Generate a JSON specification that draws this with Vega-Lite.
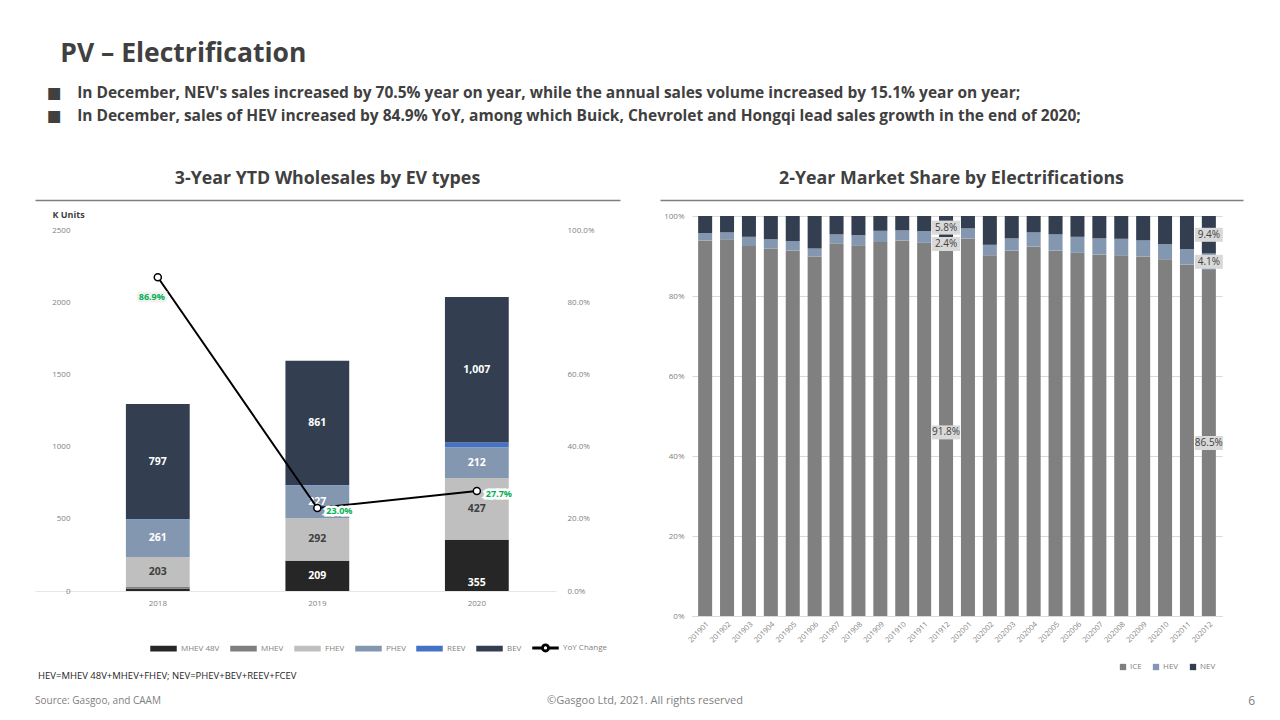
{
  "$schema": "https://vega.github.io/schema/vega-lite/v6.json",
  "background": "#ffffff",
  "padding": {"left": 35, "top": 41, "right": 20, "bottom": 6},
  "config": {
    "view": {"stroke": null},
    "font": "Open Sans",
    "axis": {"labelFont": "Open Sans", "titleFont": "Open Sans"},
    "legend": {"labelFont": "Open Sans"}
  },
  "title": {
    "text": "\u200b\u2002PV – Electrification",
    "subtitle": [
      "■\u2003In December, NEV's sales increased by 70.5% year on year, while the annual sales volume increased by 15.1% year on year;",
      "■\u2003In December, sales of HEV increased by 84.9% YoY, among which Buick, Chevrolet and Hongqi lead sales growth in the end of 2020;"
    ],
    "anchor": "start",
    "frame": "group",
    "dx": 12,
    "font": "Open Sans, DejaVu Sans",
    "fontSize": 26.5,
    "fontWeight": "bold",
    "color": "#404040",
    "subtitleFont": "Open Sans, DejaVu Sans",
    "subtitleFontSize": 15.5,
    "subtitleFontWeight": "bold",
    "subtitleColor": "#404040",
    "subtitlePadding": 18,
    "subtitleLineHeight": 23,
    "offset": 46
  },
  "spacing": 0,
  "vconcat": [
    {
      "spacing": 10,
      "vconcat": [
        {
          "spacing": 40,
          "hconcat": [
            {
              "width": 585,
              "height": 1,
              "title": {"text": "3-Year YTD Wholesales by EV types", "fontSize": 17.8, "fontWeight": "bold", "color": "#404040", "anchor": "middle", "offset": 11},
              "data": {"values": [{"v": 0}]},
              "mark": {"type": "point", "opacity": 0, "size": 1},
              "encoding": {
                "x": {"field": "v", "type": "quantitative", "axis": {"domain": true, "domainColor": "#7f7f7f", "domainWidth": 1.5, "labels": false, "ticks": false, "grid": false, "title": null}}
              }
            },
            {
              "width": 583,
              "height": 1,
              "title": {"text": "2-Year Market Share by Electrifications", "fontSize": 17.8, "fontWeight": "bold", "color": "#404040", "anchor": "middle", "offset": 11},
              "data": {"values": [{"v": 0}]},
              "mark": {"type": "point", "opacity": 0, "size": 1},
              "encoding": {
                "x": {"field": "v", "type": "quantitative", "axis": {"domain": true, "domainColor": "#7f7f7f", "domainWidth": 1.5, "labels": false, "ticks": false, "grid": false, "title": null}}
              }
            }
          ]
        },
        {
          "spacing": 23,
          "resolve": {"scale": {"color": "independent"}, "legend": {"color": "independent"}},
          "hconcat": [
            {
              "width": 521,
              "height": 375,
              "layer": [
                {
                  "data": {"values": [
                    {"year": "2018", "type": "MHEV 48V", "k": 15},
                    {"year": "2018", "type": "MHEV", "k": 17},
                    {"year": "2018", "type": "FHEV", "k": 203},
                    {"year": "2018", "type": "PHEV", "k": 261},
                    {"year": "2018", "type": "REEV", "k": 2},
                    {"year": "2018", "type": "BEV", "k": 797},
                    {"year": "2019", "type": "MHEV 48V", "k": 209},
                    {"year": "2019", "type": "MHEV", "k": 3},
                    {"year": "2019", "type": "FHEV", "k": 292},
                    {"year": "2019", "type": "PHEV", "k": 227},
                    {"year": "2019", "type": "REEV", "k": 3},
                    {"year": "2019", "type": "BEV", "k": 861},
                    {"year": "2020", "type": "MHEV 48V", "k": 355},
                    {"year": "2020", "type": "MHEV", "k": 1},
                    {"year": "2020", "type": "FHEV", "k": 427},
                    {"year": "2020", "type": "PHEV", "k": 212},
                    {"year": "2020", "type": "REEV", "k": 34},
                    {"year": "2020", "type": "BEV", "k": 1007}
                  ]},
                  "transform": [
                    {"calculate": "indexof(['MHEV 48V','MHEV','FHEV','PHEV','REEV','BEV'], datum.type)", "as": "ord"},
                    {"stack": "k", "groupby": ["year"], "sort": [{"field": "ord", "order": "ascending"}], "as": ["k0", "k1"]},
                    {"calculate": "(datum.k0 + datum.k1) / 2", "as": "kmid"}
                  ],
                  "layer": [
                    {
                      "mark": {"type": "bar"},
                      "encoding": {
                        "x": {"field": "year", "type": "nominal", "scale": {"paddingInner": 0.6, "paddingOuter": 0.433, "align": 0.658},
                          "axis": {"title": null, "labelAngle": 0, "labelFontSize": 8, "labelColor": "#7f7f7f", "ticks": false, "domainColor": "#e6e6e6", "labelPadding": 8}},
                        "y": {"field": "k0", "type": "quantitative", "scale": {"domain": [0, 2597], "nice": false},
                          "axis": {"title": "K Units", "titleAngle": 0, "titleX": 17, "titleY": -2, "titleAlign": "left", "titleBaseline": "middle", "titleFontSize": 9, "titleFontWeight": "bold", "titleColor": "#404040",
                            "values": [0, 500, 1000, 1500, 2000, 2500], "format": "d", "labelFontSize": 8, "labelColor": "#7f7f7f", "labelAlign": "right", "domain": false, "ticks": false, "grid": false, "labelPadding": -35, "minExtent": 0, "titlePadding": 0}},
                        "y2": {"field": "k1"},
                        "color": {"field": "type", "type": "nominal",
                          "scale": {"domain": ["MHEV 48V", "MHEV", "FHEV", "PHEV", "REEV", "BEV", "YoY Change"], "range": ["#262626", "#7f7f7f", "#bfbfbf", "#8497b0", "#4472c4", "#333f50", "#000000"]},
                          "legend": {"title": null, "orient": "none", "legendX": 115, "legendY": 418, "direction": "horizontal", "labelFontSize": 8, "labelColor": "#7f7f7f", "symbolSize": 625, "symbolType": "M-1,-0.17H1V0.17H-1Z", "columnPadding": 8, "labelOffset": 4,
                            "encode": {"symbols": {"update": {"shape": {"signal": "datum.value === 'YoY Change' ? 'M-1,-0.06H-0.3V0.06H-1Z M0.3,-0.06H1V0.06H0.3Z M0.3,0A0.3,0.3 0 1 0 -0.3,0A0.3,0.3 0 1 0 0.3,0Z M0.19,0A0.19,0.19 0 1 1 -0.19,0A0.19,0.19 0 1 1 0.19,0Z' : 'M-1,-0.17H1V0.17H-1Z'"}}}}}
                        }
                      }
                    },
                    {
                      "transform": [{"filter": "datum.k >= 100 && !(datum.year === '2020' && datum.type === 'MHEV 48V')"}],
                      "mark": {"type": "text", "fontSize": 10.5, "fontWeight": "bold", "baseline": "middle"},
                      "encoding": {
                        "x": {"field": "year", "type": "nominal"},
                        "y": {"field": "kmid", "type": "quantitative"},
                        "text": {"field": "k", "format": ","},
                        "color": {"condition": {"test": "datum.type === 'FHEV'", "value": "#404040"}, "value": "#ffffff"}
                      }
                    },
                    {
                      "transform": [{"filter": "datum.year === '2020' && datum.type === 'MHEV 48V'"}],
                      "mark": {"type": "text", "fontSize": 10.5, "fontWeight": "bold", "baseline": "middle", "dy": 18, "color": "#ffffff"},
                      "encoding": {
                        "x": {"field": "year", "type": "nominal"},
                        "y": {"field": "kmid", "type": "quantitative"},
                        "text": {"field": "k", "format": ","}
                      }
                    }
                  ]
                },
                {
                  "data": {"values": [
                    {"year": "2018", "yoy": 0.869},
                    {"year": "2019", "yoy": 0.230},
                    {"year": "2020", "yoy": 0.277}
                  ]},
                  "layer": [
                    {
                      "mark": {"type": "line", "strokeWidth": 2},
                      "encoding": {
                        "x": {"field": "year", "type": "nominal"},
                        "y": {"field": "yoy", "type": "quantitative", "scale": {"domain": [0, 1.0388], "nice": false},
                          "axis": {"orient": "right", "title": null, "format": ".1%", "values": [0, 0.1, 0.2, 0.3, 0.4, 0.5, 0.6, 0.7, 0.8, 0.9, 1], "labelFontSize": 8, "labelColor": "#7f7f7f", "domain": false, "ticks": false, "grid": false, "labelPadding": 11, "minExtent": 75}},
                        "color": {"datum": "YoY Change"}
                      }
                    },
                    {
                      "mark": {"type": "point", "filled": true, "fill": "#ffffff", "stroke": "#000000", "strokeWidth": 1.5, "size": 50, "opacity": 1},
                      "encoding": {
                        "x": {"field": "year", "type": "nominal"},
                        "y": {"field": "yoy", "type": "quantitative"}
                      }
                    },
                    {
                      "transform": [{"filter": "datum.year === '2018'"}],
                      "mark": {"type": "text", "fontSize": 9, "fontWeight": "bold", "color": "#f2f2f2", "stroke": "#f2f2f2", "strokeWidth": 5, "dx": -6, "dy": 20},
                      "encoding": {
                        "x": {"field": "year", "type": "nominal"},
                        "y": {"field": "yoy", "type": "quantitative"},
                        "text": {"field": "yoy", "format": ".1%"}
                      }
                    },
                    {
                      "transform": [{"filter": "datum.year === '2018'"}],
                      "mark": {"type": "text", "fontSize": 9, "fontWeight": "bold", "color": "#00b050", "dx": -6, "dy": 20},
                      "encoding": {
                        "x": {"field": "year", "type": "nominal"},
                        "y": {"field": "yoy", "type": "quantitative"},
                        "text": {"field": "yoy", "format": ".1%"}
                      }
                    },
                    {
                      "transform": [{"filter": "datum.year !== '2018'"}],
                      "mark": {"type": "text", "fontSize": 9, "fontWeight": "bold", "color": "#ffffff", "stroke": "#ffffff", "strokeWidth": 5, "align": "left", "dx": 9, "dy": 3},
                      "encoding": {
                        "x": {"field": "year", "type": "nominal"},
                        "y": {"field": "yoy", "type": "quantitative"},
                        "text": {"field": "yoy", "format": ".1%"}
                      }
                    },
                    {
                      "transform": [{"filter": "datum.year !== '2018'"}],
                      "mark": {"type": "text", "fontSize": 9, "fontWeight": "bold", "color": "#00b050", "align": "left", "dx": 9, "dy": 3},
                      "encoding": {
                        "x": {"field": "year", "type": "nominal"},
                        "y": {"field": "yoy", "type": "quantitative"},
                        "text": {"field": "yoy", "format": ".1%"}
                      }
                    }
                  ]
                }
              ],
              "resolve": {"scale": {"y": "independent"}}
            },
            {
              "width": 530,
              "height": 400,
              "data": {"values": [
                {"month": "201901", "fuel": "ICE", "share": 0.939}, {"month": "201901", "fuel": "HEV", "share": 0.018}, {"month": "201901", "fuel": "NEV", "share": 0.043},
                {"month": "201902", "fuel": "ICE", "share": 0.942}, {"month": "201902", "fuel": "HEV", "share": 0.017}, {"month": "201902", "fuel": "NEV", "share": 0.041},
                {"month": "201903", "fuel": "ICE", "share": 0.925}, {"month": "201903", "fuel": "HEV", "share": 0.023}, {"month": "201903", "fuel": "NEV", "share": 0.052},
                {"month": "201904", "fuel": "ICE", "share": 0.919}, {"month": "201904", "fuel": "HEV", "share": 0.023}, {"month": "201904", "fuel": "NEV", "share": 0.058},
                {"month": "201905", "fuel": "ICE", "share": 0.914}, {"month": "201905", "fuel": "HEV", "share": 0.023}, {"month": "201905", "fuel": "NEV", "share": 0.063},
                {"month": "201906", "fuel": "ICE", "share": 0.899}, {"month": "201906", "fuel": "HEV", "share": 0.020}, {"month": "201906", "fuel": "NEV", "share": 0.081},
                {"month": "201907", "fuel": "ICE", "share": 0.931}, {"month": "201907", "fuel": "HEV", "share": 0.023}, {"month": "201907", "fuel": "NEV", "share": 0.046},
                {"month": "201908", "fuel": "ICE", "share": 0.927}, {"month": "201908", "fuel": "HEV", "share": 0.025}, {"month": "201908", "fuel": "NEV", "share": 0.048},
                {"month": "201909", "fuel": "ICE", "share": 0.935}, {"month": "201909", "fuel": "HEV", "share": 0.028}, {"month": "201909", "fuel": "NEV", "share": 0.037},
                {"month": "201910", "fuel": "ICE", "share": 0.939}, {"month": "201910", "fuel": "HEV", "share": 0.025}, {"month": "201910", "fuel": "NEV", "share": 0.036},
                {"month": "201911", "fuel": "ICE", "share": 0.933}, {"month": "201911", "fuel": "HEV", "share": 0.029}, {"month": "201911", "fuel": "NEV", "share": 0.038},
                {"month": "201912", "fuel": "ICE", "share": 0.918}, {"month": "201912", "fuel": "HEV", "share": 0.024}, {"month": "201912", "fuel": "NEV", "share": 0.058},
                {"month": "202001", "fuel": "ICE", "share": 0.944}, {"month": "202001", "fuel": "HEV", "share": 0.025}, {"month": "202001", "fuel": "NEV", "share": 0.031},
                {"month": "202002", "fuel": "ICE", "share": 0.902}, {"month": "202002", "fuel": "HEV", "share": 0.026}, {"month": "202002", "fuel": "NEV", "share": 0.072},
                {"month": "202003", "fuel": "ICE", "share": 0.914}, {"month": "202003", "fuel": "HEV", "share": 0.030}, {"month": "202003", "fuel": "NEV", "share": 0.056},
                {"month": "202004", "fuel": "ICE", "share": 0.924}, {"month": "202004", "fuel": "HEV", "share": 0.035}, {"month": "202004", "fuel": "NEV", "share": 0.041},
                {"month": "202005", "fuel": "ICE", "share": 0.914}, {"month": "202005", "fuel": "HEV", "share": 0.040}, {"month": "202005", "fuel": "NEV", "share": 0.046},
                {"month": "202006", "fuel": "ICE", "share": 0.908}, {"month": "202006", "fuel": "HEV", "share": 0.040}, {"month": "202006", "fuel": "NEV", "share": 0.052},
                {"month": "202007", "fuel": "ICE", "share": 0.904}, {"month": "202007", "fuel": "HEV", "share": 0.040}, {"month": "202007", "fuel": "NEV", "share": 0.056},
                {"month": "202008", "fuel": "ICE", "share": 0.902}, {"month": "202008", "fuel": "HEV", "share": 0.041}, {"month": "202008", "fuel": "NEV", "share": 0.057},
                {"month": "202009", "fuel": "ICE", "share": 0.899}, {"month": "202009", "fuel": "HEV", "share": 0.040}, {"month": "202009", "fuel": "NEV", "share": 0.061},
                {"month": "202010", "fuel": "ICE", "share": 0.892}, {"month": "202010", "fuel": "HEV", "share": 0.038}, {"month": "202010", "fuel": "NEV", "share": 0.070},
                {"month": "202011", "fuel": "ICE", "share": 0.879}, {"month": "202011", "fuel": "HEV", "share": 0.038}, {"month": "202011", "fuel": "NEV", "share": 0.083},
                {"month": "202012", "fuel": "ICE", "share": 0.865}, {"month": "202012", "fuel": "HEV", "share": 0.041}, {"month": "202012", "fuel": "NEV", "share": 0.094}
              ]},
              "transform": [
                {"calculate": "indexof(['ICE','HEV','NEV'], datum.fuel)", "as": "ord"},
                {"stack": "share", "groupby": ["month"], "offset": "normalize", "sort": [{"field": "ord", "order": "ascending"}], "as": ["s0", "s1"]},
                {"calculate": "(datum.s0 + datum.s1) / 2", "as": "smid"}
              ],
              "layer": [
                {
                  "mark": {"type": "bar"},
                  "encoding": {
                    "x": {"field": "month", "type": "nominal", "scale": {"paddingInner": 0.36, "paddingOuter": 0.28},
                      "axis": {"title": null, "labelAngle": -45, "labelFontSize": 7.5, "labelColor": "#7f7f7f", "ticks": false, "domainColor": "#d9d9d9", "labelPadding": 4}},
                    "y": {"field": "s0", "type": "quantitative", "scale": {"domain": [0, 1], "nice": false},
                      "axis": {"title": null, "format": ".0%", "values": [0, 0.1, 0.2, 0.3, 0.4, 0.5, 0.6, 0.7, 0.8, 0.9, 1], "labelFontSize": 8, "labelColor": "#7f7f7f", "domain": false, "ticks": false, "grid": true, "gridColor": "#d9d9d9", "labelPadding": 8, "minExtent": 38, "titlePadding": 0}},
                    "y2": {"field": "s1"},
                    "color": {"field": "fuel", "type": "nominal",
                      "scale": {"domain": ["ICE", "HEV", "NEV"], "range": ["#808080", "#8497b0", "#333f50"]},
                      "legend": {"title": null, "orient": "none", "legendX": 427, "legendY": 447, "direction": "horizontal", "labelFontSize": 8, "labelColor": "#7f7f7f", "symbolType": "square", "symbolSize": 40, "columnPadding": 10, "labelOffset": 3}}
                  }
                },
                {
                  "transform": [{"filter": "datum.month === '201912' || datum.month === '202012'"}],
                  "mark": {"type": "point", "shape": "M-1,-0.5H1V0.5H-1Z", "filled": true, "color": "#d9d9d9", "fill": "#d9d9d9", "opacity": 1, "size": 784},
                  "encoding": {
                    "x": {"field": "month", "type": "nominal"},
                    "y": {"field": "smid", "type": "quantitative"}
                  }
                },
                {
                  "transform": [{"filter": "datum.month === '201912' || datum.month === '202012'"}],
                  "mark": {"type": "text", "fontSize": 10, "color": "#404040", "baseline": "middle"},
                  "encoding": {
                    "x": {"field": "month", "type": "nominal"},
                    "y": {"field": "smid", "type": "quantitative"},
                    "text": {"field": "share", "format": ".1%"}
                  }
                }
              ]
            }
          ]
        }
      ]
    },
    {
      "width": 1220,
      "height": 25,
      "data": {"values": [
        {"note": "HEV=MHEV 48V+MHEV+FHEV; NEV=PHEV+BEV+REEV+FCEV", "pos": "left", "line": "top"},
        {"note": "Source: Gasgoo, and CAAM", "pos": "left", "line": "bottom"},
        {"note": "©Gasgoo Ltd,  2021. All rights reserved", "pos": "center", "line": "bottom"},
        {"note": "6", "pos": "right", "line": "bottom"}
      ]},
      "encoding": {
        "x": {"field": "pos", "type": "nominal", "scale": {"type": "point", "domain": ["left", "center", "right"], "padding": 0}, "axis": null},
        "y": {"field": "line", "type": "nominal", "scale": {"type": "point", "domain": ["top", "bottom"], "padding": 0}, "axis": null},
        "text": {"field": "note"}
      },
      "layer": [
        {"transform": [{"filter": "datum.line === 'top'"}], "mark": {"type": "text", "align": "left", "baseline": "middle", "fontSize": 9.5, "color": "#262626", "dx": 3}},
        {"transform": [{"filter": "datum.line === 'bottom' && datum.pos === 'left'"}], "mark": {"type": "text", "align": "left", "baseline": "middle", "fontSize": 10, "color": "#808080"}},
        {"transform": [{"filter": "datum.pos === 'center'"}], "mark": {"type": "text", "align": "center", "baseline": "middle", "fontSize": 11, "color": "#808080"}},
        {"transform": [{"filter": "datum.pos === 'right'"}], "mark": {"type": "text", "align": "right", "baseline": "middle", "fontSize": 12, "color": "#808080"}}
      ]
    }
  ]
}
